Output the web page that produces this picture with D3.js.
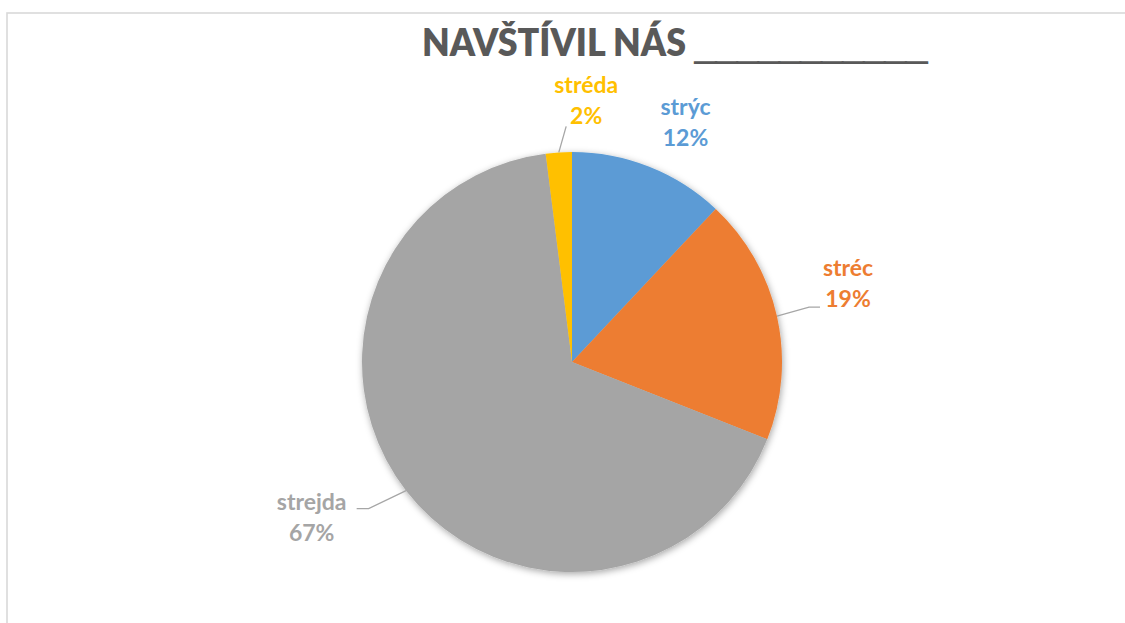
<!DOCTYPE html>
<html>
<head>
<meta charset="utf-8">
<script src="https://cdn.jsdelivr.net/npm/d3@7"></script>
<style>
	html, body { margin: 0; padding: 0; background: #fff; }
	#canvas { width: 1125px; height: 623px; }
</style>
</head>
<body>
<div id="canvas"></div>
<script>
// chart data
const categories = ['strýc', 'stréc', 'strejda', 'stréda'];
const shares = [12, 19, 67, 2];
const colors = ['#5B9BD5', '#ED7D31', '#A5A5A5', '#FFC000'];
const titleWords = 'NAVŠTÍVIL NÁS';
const titleBlank = '___________';

const width = 1125;
const height = 623;
const center = { x: 572, y: 362 };
const radius = 210;

// where each label block sits (distance / angle tweak from its slice middle)
const labelLayout = [
	{ dist: 258, shift: 4.5, leader: null },
	{ dist: 285, shift: -1.8, leader: { side: 'left', dx: -28, dy: 16, elbow: 11 } },
	{ dist: 307, shift: 5.8, leader: { side: 'right', dx: 45, dy: -16, elbow: 12 } },
	{ dist: 254, shift: 6.8, leader: { side: 'bottom', dx: -20, dy: 18, elbow: 0 } },
];

const svg = d3.select('#canvas').append('svg')
	.attr('width', width)
	.attr('height', height)
	.style('font-family', 'Lato, "Open Sans", sans-serif');

const defs = svg.append('defs');
defs.append('filter')
	.attr('id', 'shadow')
	.attr('x', '-20%').attr('y', '-20%')
	.attr('width', '140%').attr('height', '140%')
	.append('feDropShadow')
	.attr('dx', 1).attr('dy', 2)
	.attr('stdDeviation', 3.5)
	.attr('flood-color', '#000')
	.attr('flood-opacity', 0.35);

// chart frame
svg.append('rect')
	.attr('x', 7).attr('y', 13)
	.attr('width', 1300).attr('height', 800)
	.attr('fill', 'none')
	.attr('stroke', '#d9d9d9')
	.attr('stroke-width', 1.6);

// title: words + a solid blank line
svg.append('text')
	.attr('x', 422)
	.attr('y', 56)
	.attr('font-size', 37)
	.attr('font-weight', 800)
	.attr('fill', '#595959')
	.attr('textLength', 264)
	.attr('lengthAdjust', 'spacingAndGlyphs')
	.text(titleWords);

svg.append('text')
	.attr('x', 695)
	.attr('y', 58.5)
	.attr('font-family', '"Liberation Sans", Arial, sans-serif')
	.attr('font-size', 34)
	.attr('font-weight', 700)
	.attr('fill', '#595959')
	.attr('stroke', '#595959')
	.attr('stroke-width', 1.4)
	.attr('textLength', 232)
	.attr('lengthAdjust', 'spacingAndGlyphs')
	.text(titleBlank);

const data = categories.map((name, i) => ({ name, value: shares[i], color: colors[i], layout: labelLayout[i] }));

const pie = d3.pie().sort(null).value(d => d.value);
const arcs = pie(data);
const arc = d3.arc().innerRadius(0).outerRadius(radius);

const g = svg.append('g').attr('transform', `translate(${center.x},${center.y})`);

g.append('g')
	.attr('filter', 'url(#shadow)')
	.selectAll('path')
	.data(arcs)
	.join('path')
	.attr('d', arc)
	.attr('fill', d => d.data.color);

const total = d3.sum(shares);
const toXY = (angleRad, r) => [Math.sin(angleRad) * r, -Math.cos(angleRad) * r];

arcs.forEach(a => {
	const mid = (a.startAngle + a.endAngle) / 2;
	const { dist, shift, leader } = a.data.layout;
	const [lx, ly] = toXY(mid + (shift * Math.PI) / 180, dist);
	const pct = Math.round((a.data.value / total) * 100) + '%';

	if (leader) {
		const [sx, sy] = toXY(mid, radius);
		const ex = lx + leader.dx;
		const ey = ly + leader.dy;
		const pts = [[sx, sy]];
		if (leader.elbow) {
			const dir = leader.side === 'left' ? -1 : 1;
			pts.push([ex + dir * leader.elbow, ey]);
		}
		pts.push([ex, ey]);
		g.append('path')
			.attr('d', d3.line()(pts))
			.attr('fill', 'none')
			.attr('stroke', '#a6a6a6')
			.attr('stroke-width', 1.3);
	}

	const t = g.append('text')
		.attr('text-anchor', 'middle')
		.attr('font-size', 23)
		.attr('font-weight', 700)
		.attr('fill', a.data.color);
	t.append('tspan').attr('x', lx).attr('y', ly - 15).text(a.data.name);
	t.append('tspan').attr('x', lx).attr('y', ly + 16).text(pct);
});
</script>
</body>
</html>
